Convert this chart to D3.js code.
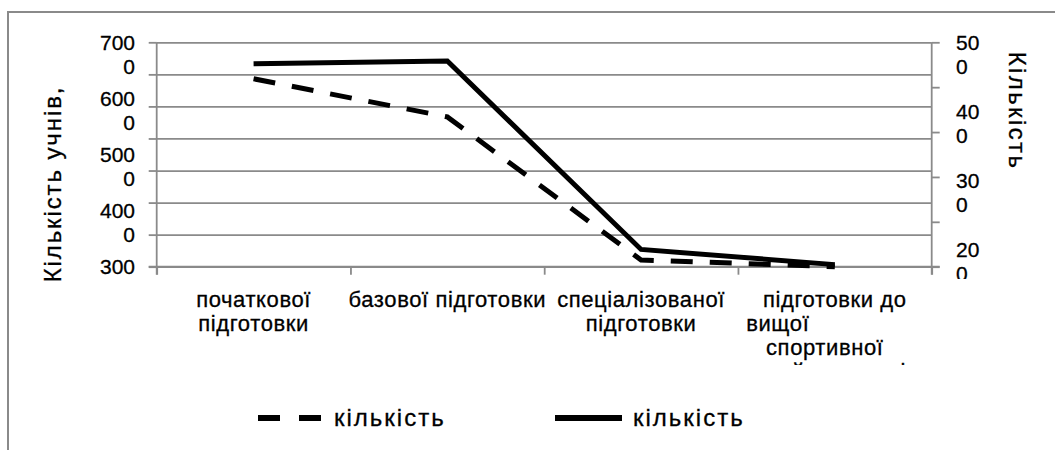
<!DOCTYPE html>
<html>
<head>
<meta charset="utf-8">
<script src="https://cdn.jsdelivr.net/npm/d3@7/dist/d3.min.js"></script>
<style>
  html, body { margin: 0; padding: 0; background: #fff; }
  svg { display: block; font-family: "Liberation Sans", Arial, sans-serif; }
  text { white-space: pre; }
</style>
</head>
<body>
<svg id="chart" width="1055" height="450"></svg>
<script>
// Categories (training stages), wrapped the way they are printed under the axis
const categories = [
  "початкової підготовки",
  "базової підготовки",
  "спеціалізованої підготовки",
  "підготовки до вищої спортивної майстерності"
];
const categoryLines = [
  ["початкової", "підготовки"],
  ["базової підготовки"],
  ["спеціалізованої", "підготовки"],
  ["підготовки до", "вищої\u00A0\u00A0\u00A0\u00A0\u00A0\u00A0\u00A0\u00A0\u00A0\u00A0\u00A0\u00A0\u00A0\u00A0\u00A0\u00A0\u00A0", "спортивної\u00A0\u00A0\u00A0", "майстерності"]
];

// Series: dashed one on the left axis (pupils), solid one on the right axis
const seriesNames = ["кількість", "кількість"];
const pupilsLeft = [6350, 5670, 3120, 3000];
const countRight = [469, 473, 200, 178];

// Axes
const leftDomain = [3000, 7000];
const leftTickLabels = [7000, 6000, 5000, 4000, 3000];
const leftGridCount = 8;
const rightDomain = [175, 500];
const rightTickValues = [175, 240, 305, 370, 435, 500];
const rightTickLabels = [500, 400, 300, 200];
const leftTitle = "Кількість учнів,";
const rightTitle = "Кількість";

const svg = d3.select("#chart");
const grey = "#8a8a8a";
const plot = { left: 156.7, right: 931.7, top: 42.3, bottom: 266.7 };

// Outer frame (top and left edges are visible)
svg.append("path")
  .attr("d", `M8,450V12H1055`)
  .attr("fill", "none")
  .attr("stroke", grey)
  .attr("stroke-width", 2);

const x = d3.scaleBand().domain(categories).range([plot.left, plot.right]);
const yL = d3.scaleLinear().domain(leftDomain).range([plot.bottom, plot.top]);
const yR = d3.scaleLinear().domain(rightDomain).range([plot.bottom, plot.top]);

// Horizontal gridlines with left tick stubs
const gridValues = d3.range(leftGridCount).map(i => leftDomain[0] + i * (leftDomain[1] - leftDomain[0]) / (leftGridCount - 1));
const gridAxis = svg.append("g")
  .attr("transform", `translate(${plot.left},0)`)
  .call(d3.axisLeft(yL).tickValues(gridValues).tickSize(8).tickFormat(""))
  .call(g => g.selectAll(".tick line").clone()
      .attr("x2", plot.right - plot.left));
gridAxis.selectAll("path, line").attr("stroke", grey).attr("stroke-width", 1.8);
gridAxis.select(".domain").attr("d", `M0,${plot.top}V${plot.bottom + 8}`);

// Right axis with its own ticks
const rightAxis = svg.append("g")
  .attr("transform", `translate(${plot.right},0)`)
  .call(d3.axisRight(yR).tickValues(rightTickValues).tickSize(8).tickFormat(""));
rightAxis.selectAll("path, line").attr("stroke", grey).attr("stroke-width", 1.8);
rightAxis.select(".domain").attr("d", `M0,${plot.top}V${plot.bottom + 8}`);

// Category axis: ticks on band boundaries
const xEdges = d3.scaleLinear().domain([0, categories.length]).range([plot.left, plot.right]);
const bottomAxis = svg.append("g")
  .attr("transform", `translate(0,${plot.bottom})`)
  .call(d3.axisBottom(xEdges).tickValues(d3.range(categories.length + 1)).tickSize(8).tickFormat(""));
bottomAxis.selectAll("path, line").attr("stroke", grey).attr("stroke-width", 1.8);
bottomAxis.select(".domain").attr("d", `M${plot.left - 8},0H${plot.right + 8}`);

// Clipping regions (long labels run off below the axis)
const defs = svg.append("defs");
defs.append("clipPath").attr("id", "tickClip")
  .append("rect").attr("x", 0).attr("y", 0).attr("width", 1055).attr("height", 279);
defs.append("clipPath").attr("id", "catClip")
  .append("rect").attr("x", 0).attr("y", 0).attr("width", 1055).attr("height", 365);

const labelFont = 21;
const lineGap = 24.5;
const ink = { fill: "#000", stroke: "#000", sw: 0.3 };

function twoLine(sel, label) {
  const parts = [label.slice(0, -1), label.slice(-1)];
  parts.forEach((p, i) => {
    sel.append("tspan")
      .attr("x", sel.attr("x"))
      .attr("dy", i === 0 ? "0.35em" : lineGap)
      .text(p);
  });
}

const leftLabels = svg.append("g").attr("clip-path", "url(#tickClip)");
leftTickLabels.forEach(v => {
  const t = leftLabels.append("text")
    .attr("x", 135)
    .attr("y", yL(v))
    .attr("text-anchor", "end")
    .attr("font-size", labelFont)
    .attr("fill", ink.fill).attr("stroke", ink.stroke).attr("stroke-width", ink.sw);
  twoLine(t, String(v));
});

const rightLabels = svg.append("g").attr("clip-path", "url(#tickClip)");
rightTickLabels.forEach(v => {
  const t = rightLabels.append("text")
    .attr("x", 956)
    .attr("y", yR(v))
    .attr("text-anchor", "start")
    .attr("font-size", labelFont)
    .attr("fill", ink.fill).attr("stroke", ink.stroke).attr("stroke-width", ink.sw);
  twoLine(t, String(v));
});

// Category labels
const catLabels = svg.append("g").attr("clip-path", "url(#catClip)");
categories.forEach((c, i) => {
  const cx = x(c) + x.bandwidth() / 2;
  const t = catLabels.append("text")
    .attr("x", cx)
    .attr("y", 299)
    .attr("text-anchor", "middle")
    .attr("font-size", 22)
    .attr("letter-spacing", 0.6)
    .attr("fill", ink.fill).attr("stroke", ink.stroke).attr("stroke-width", ink.sw);
  categoryLines[i].forEach((line, j) => {
    t.append("tspan")
      .attr("x", cx)
      .attr("dy", j === 0 ? "0.35em" : 24)
      .text(line);
  });
});

// Axis titles
svg.append("text")
  .attr("transform", `translate(53,184) rotate(-90)`)
  .attr("text-anchor", "middle")
  .attr("dy", "0.35em")
  .attr("font-size", 24)
  .attr("letter-spacing", 1.9)
  .attr("fill", ink.fill).attr("stroke", ink.stroke).attr("stroke-width", ink.sw)
  .text(leftTitle);
svg.append("text")
  .attr("transform", `translate(1017,111) rotate(90)`)
  .attr("text-anchor", "middle")
  .attr("dy", "0.35em")
  .attr("font-size", 24)
  .attr("letter-spacing", 2.4)
  .attr("fill", ink.fill).attr("stroke", ink.stroke).attr("stroke-width", ink.sw)
  .text(rightTitle);

// Series lines
const cx = c => x(c) + x.bandwidth() / 2;
const lineL = d3.line().x((d, i) => cx(categories[i])).y(d => yL(d));
const lineR = d3.line().x((d, i) => cx(categories[i])).y(d => yR(d));

svg.append("path")
  .datum(pupilsLeft)
  .attr("d", lineL)
  .attr("fill", "none")
  .attr("stroke", "#000")
  .attr("stroke-width", 5)
  .attr("stroke-dasharray", "22,17");

svg.append("path")
  .datum(countRight)
  .attr("d", lineR)
  .attr("fill", "none")
  .attr("stroke", "#000")
  .attr("stroke-width", 5)
  .attr("stroke-linejoin", "miter");

// Legend
const legend = svg.append("g");
const legendItems = [
  { name: seriesNames[0], dash: "22,19", x1: 258, x2: 322, tx: 334 },
  { name: seriesNames[1], dash: null, x1: 555, x2: 622, tx: 633 }
];
legendItems.forEach(it => {
  legend.append("line")
    .attr("x1", it.x1).attr("x2", it.x2)
    .attr("y1", 418).attr("y2", 418)
    .attr("stroke", "#000")
    .attr("stroke-width", 6)
    .attr("stroke-dasharray", it.dash);
  legend.append("text")
    .attr("x", it.tx)
    .attr("y", 418)
    .attr("dy", "0.35em")
    .attr("font-size", 24)
    .attr("letter-spacing", 2)
    .attr("fill", ink.fill).attr("stroke", ink.stroke).attr("stroke-width", ink.sw)
    .text(it.name);
});
</script>
</body>
</html>
